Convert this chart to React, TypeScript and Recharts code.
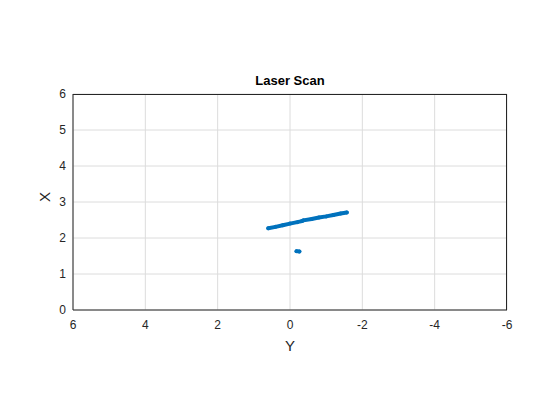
import React from 'react';
import {
  ScatterChart, Scatter, XAxis, YAxis, CartesianGrid,
} from 'recharts';

// scan returns, Y (lateral) and X (forward) in metres
const wallAY = [0.6, 0.4, 0.2, 0.0, -0.2, -0.33];
const wallAX = [2.27, 2.31, 2.355, 2.4, 2.44, 2.47];
const wallBY = [-0.37, -0.6, -0.8, -1.0, -1.2, -1.4, -1.57];
const wallBX = [2.49, 2.53, 2.57, 2.6, 2.64, 2.68, 2.71];
const blobY = [-0.18, -0.26];
const blobX = [1.635, 1.625];

const xTicks = [6, 4, 2, 0, -2, -4, -6];
const yTicks = [0, 1, 2, 3, 4, 5, 6];

const toPts = (ys: number[], xs: number[]) => ys.map((y, i) => ({ y, x: xs[i] }));

const BLUE = '#0072BD';
const FONT = '"Liberation Sans", Arial, sans-serif';

const dot = (p: any) => <circle cx={p.cx} cy={p.cy} r={2} fill={BLUE} />;

export default function App() {
  const lineStyle = { stroke: BLUE, strokeWidth: 4, strokeLinecap: 'round' as const };
  return (
    <div style={{ position: 'fixed', left: 0, top: 0, width: 560, height: 420, background: '#fff', fontFamily: FONT }}>
      <div style={{ position: 'absolute', top: 73, left: 0, width: 580, textAlign: 'center', fontWeight: 'bold', fontSize: 13, color: '#000' }}>
        Laser Scan
      </div>
      <ScatterChart width={560} height={420} margin={{ top: 94, right: 53, bottom: 80, left: 33 }}>
        <CartesianGrid stroke="#dcdcdc" />
        <XAxis
          type="number" dataKey="y" domain={[-6, 6]} ticks={xTicks} reversed
          height={30} tickLine={false} axisLine={{ stroke: '#262626' }}
          tick={{ fontSize: 12, fill: '#262626', fontFamily: FONT }} tickMargin={4}
          label={{ value: 'Y', position: 'insideBottom', offset: -11, fontSize: 15, fill: '#262626', fontFamily: FONT }}
        />
        <YAxis
          type="number" dataKey="x" domain={[0, 6]} ticks={yTicks}
          width={40} tickLine={false} axisLine={{ stroke: '#262626' }}
          tick={{ fontSize: 12, fill: '#262626', fontFamily: FONT }} tickMargin={1}
          label={{ value: 'X', angle: -90, position: 'insideLeft', offset: 12, fontSize: 15, fill: '#262626', fontFamily: FONT }}
        />
        <Scatter data={toPts(wallAY, wallAX)} line={lineStyle} shape={dot} isAnimationActive={false} />
        <Scatter data={toPts(wallBY, wallBX)} line={lineStyle} shape={dot} isAnimationActive={false} />
        <Scatter data={toPts(blobY, blobX)} line={lineStyle} shape={dot} isAnimationActive={false} />
      </ScatterChart>
      <div style={{ position: 'absolute', left: 73, top: 94, width: 434, height: 216, boxSizing: 'border-box', borderTop: '1px solid #262626', borderRight: '1px solid #262626', pointerEvents: 'none' }} />
    </div>
  );
}
